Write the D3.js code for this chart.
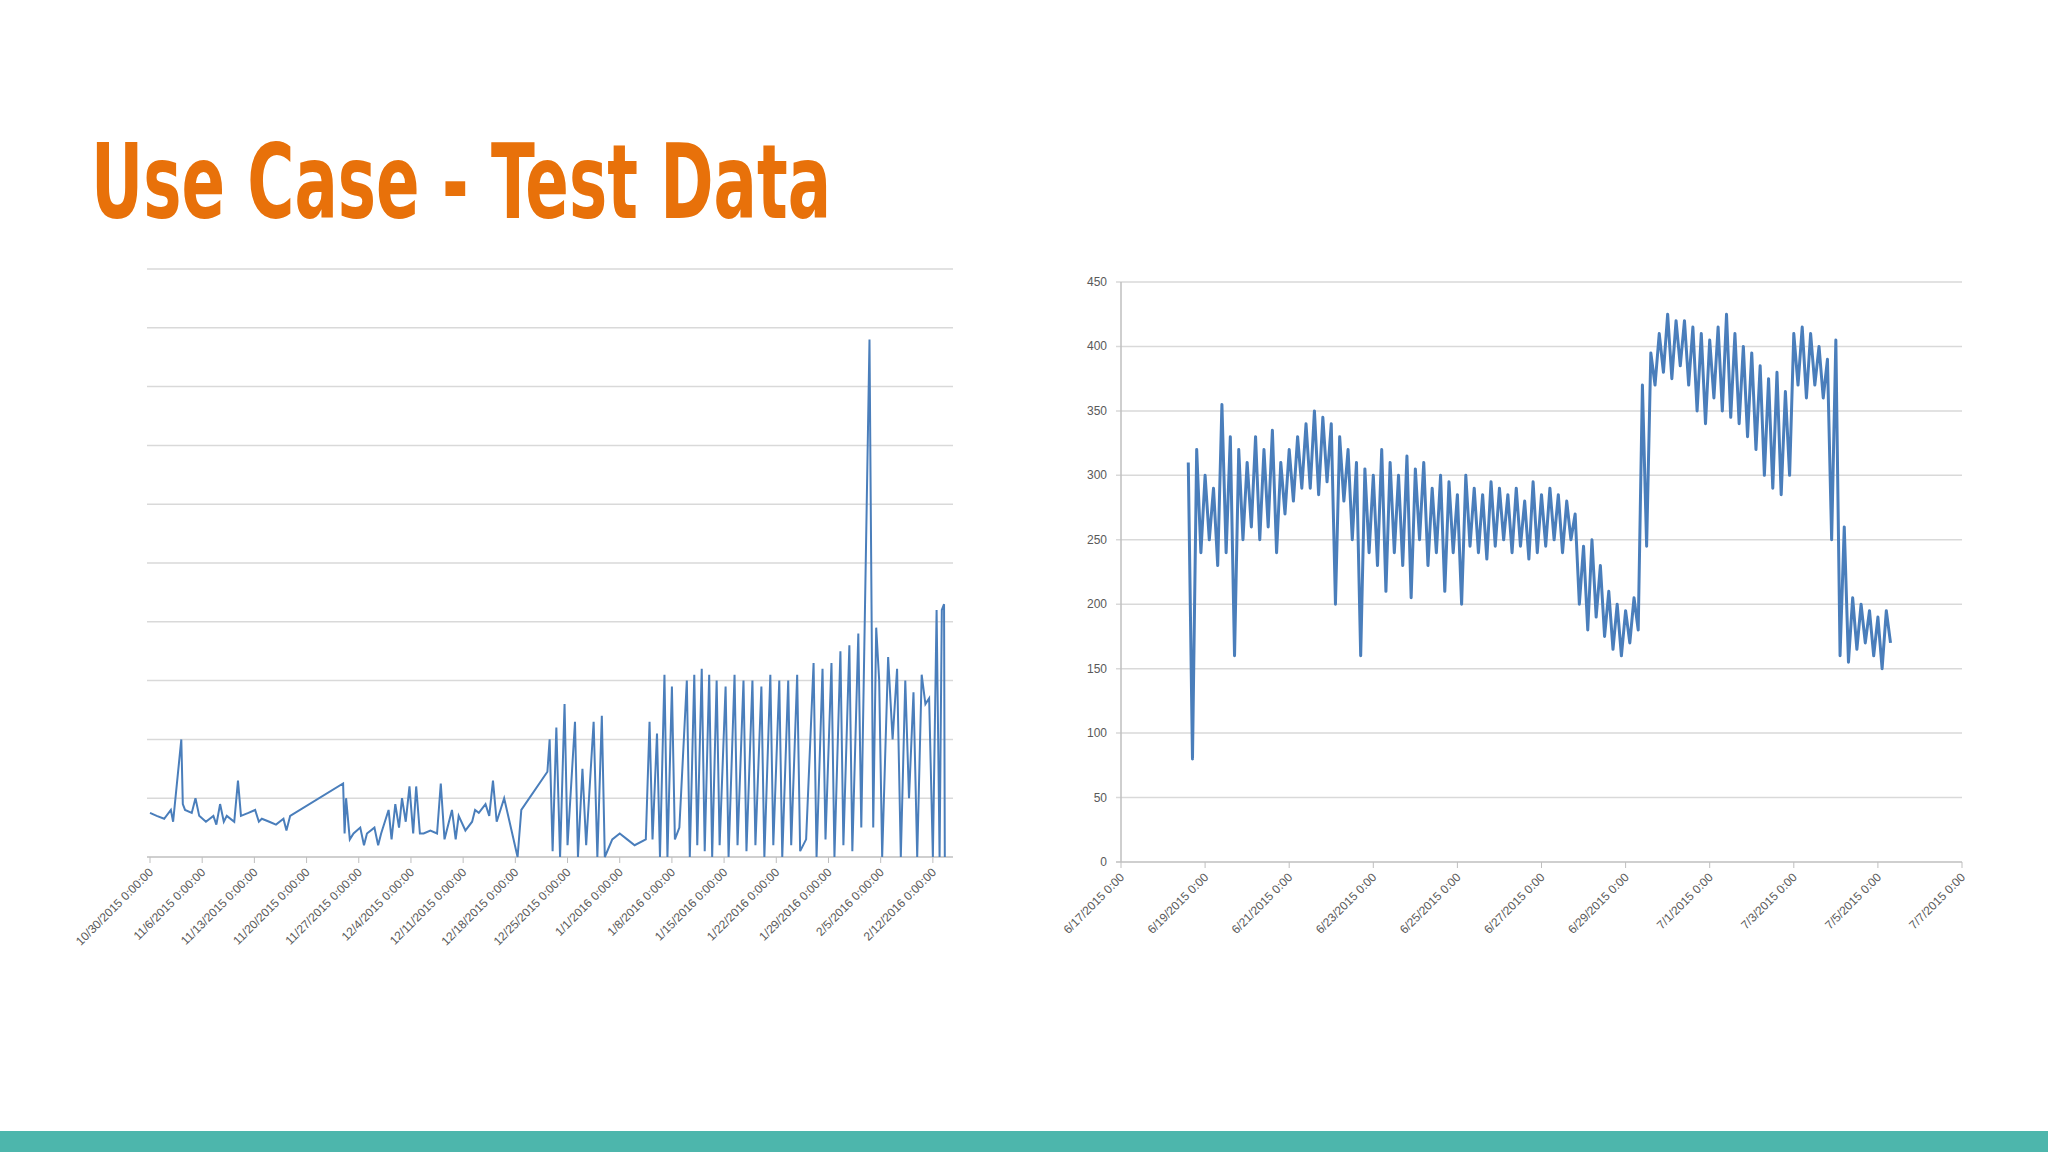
<!DOCTYPE html>
<html><head><meta charset="utf-8">
<script src="https://cdn.jsdelivr.net/npm/d3@7"></script>
<style>body{margin:0;background:#fff}svg{display:block}</style>
</head><body>
<svg id="c" width="2048" height="1152"></svg>
<script>
const titleText = "Use Case - Test Data";
// Left chart: [days since 10/30/2015, value in gridline units]
const leftData = [[0,0.75],[0.9,0.7],[1.9,0.65],[2.8,0.8],[3.1,0.6],[4.2,2.0],[4.4,0.9],[4.7,0.8],[5.6,0.75],[6.1,1.0],[6.6,0.7],[7.5,0.6],[8.5,0.7],[8.9,0.55],[9.4,0.9],[9.9,0.6],[10.3,0.7],[11.3,0.6],[11.8,1.3],[12.2,0.7],[13.2,0.75],[14.1,0.8],[14.6,0.6],[15,0.65],[16,0.6],[16.9,0.55],[17.9,0.65],[18.3,0.45],[18.8,0.7],
[25.9,1.25],[26.1,0.4],[26.3,1.0],[26.8,0.3],[27.3,0.4],[28.2,0.5],[28.7,0.2],[29.1,0.4],[30.1,0.5],[30.6,0.2],[31,0.4],[32,0.8],[32.4,0.3],[32.9,0.9],[33.4,0.5],[33.8,1.0],[34.3,0.6],[34.8,1.2],[35.3,0.4],[35.7,1.2],[36.2,0.4],[36.7,0.4],[37.6,0.45],[38.5,0.4],[39,1.25],[39.5,0.3],[40.5,0.8],[41,0.3],[41.4,0.7],[42.3,0.45],[43.2,0.6],[43.6,0.8],[44.1,0.75],[45,0.9],[45.5,0.7],[46,1.3],[46.5,0.6],[47.5,1.0],[49.3,0],[49.8,0.8],[53.3,1.45],
[53.6,2.0],[54,0.1],[54.5,2.2],[55,0],[55.6,2.6],[56,0.2],[57,2.3],[57.4,0],[58,1.5],[58.5,0.2],[59.5,2.3],[60,0],[60.6,2.4],[61,0],[62,0.3],[63,0.4],[64,0.3],[65,0.2],[66.5,0.3],[67,2.3],[67.4,0.3],[68,2.1],[68.4,0],[69,3.1],[69.4,0],[70,2.9],[70.4,0.3],[71,0.5],[72,3.0],[72.4,0],[73,3.1],[73.4,0.2],[74,3.2],[74.4,0.1],[75,3.1],[75.4,0],[76,3.0],[76.4,0.2],[77.2,2.9],[77.6,0],[78.4,3.1],[78.8,0.2],[79.6,3.0],[80,0.1],[80.8,3.0],[81.2,0.2],[82,2.9],[82.4,0],[83.2,3.1],[83.6,0.2],[84.4,3.0],[84.8,0],[85.6,3.0],[86,0.2],[86.8,3.1],[87.2,0.1],[88,0.3],[89,3.3],[89.4,0],[90.2,3.2],[90.6,0.3],[91.4,3.3],[91.8,0],[92.6,3.5],[93,0.2],[93.8,3.6],[94.2,0.1],[95,3.8],[95.4,0.5],[96.5,8.8],[97,0.5],[97.4,3.9],[97.8,3.0],[98.2,0],[99,3.4],[99.6,2.0],[100.2,3.2],[100.7,0],[101.3,3.0],[101.8,1.0],[102.4,2.8],[102.9,0],[103.5,3.1],[104,2.6],[104.5,2.7],[105,0],[105.5,4.2],[105.9,0],[106.2,4.2],[106.5,4.3],[106.6,0]];
const leftTicks = ["10/30/2015 0:00:00","11/6/2015 0:00:00","11/13/2015 0:00:00","11/20/2015 0:00:00","11/27/2015 0:00:00","12/4/2015 0:00:00","12/11/2015 0:00:00","12/18/2015 0:00:00","12/25/2015 0:00:00","1/1/2016 0:00:00","1/8/2016 0:00:00","1/15/2016 0:00:00","1/22/2016 0:00:00","1/29/2016 0:00:00","2/5/2016 0:00:00","2/12/2016 0:00:00"];
// Right chart: values sampled every 0.1 day starting at day 1.6 after 6/17/2015
const rightStart = 1.6, rightStep = 0.1;
const rightValues = [310,80,320,240,300,250,290,230,
355,240,330,160,320,250,310,260,330,250,
320,260,335,240,310,270,320,280,330,290,
340,290,350,285,345,295,340,200,330,280,
320,250,310,160,305,240,300,230,320,210,
310,240,300,230,315,205,305,250,310,230,
290,240,300,210,295,240,285,200,300,245,
290,240,285,235,295,245,290,250,285,240,
290,245,280,235,295,240,285,245,290,250,
285,240,280,250,270,200,245,180,250,190,
230,175,210,165,200,160,195,170,205,180,
370,245,395,370,410,380,425,375,420,385,
420,370,415,350,410,340,405,360,415,350,
425,345,410,340,400,330,395,320,385,300,
375,290,380,285,365,300,410,370,415,360,
410,370,400,360,390,250,405,160,260,155,
205,165,200,170,195,160,190,150,195,170];
const rightTicks = ["6/17/2015 0:00","6/19/2015 0:00","6/21/2015 0:00","6/23/2015 0:00","6/25/2015 0:00","6/27/2015 0:00","6/29/2015 0:00","7/1/2015 0:00","7/3/2015 0:00","7/5/2015 0:00","7/7/2015 0:00"];
const rightYTicks = [0,50,100,150,200,250,300,350,400,450];

const svg = d3.select("#c");
const lineColor = "#4a7ebb", grid = "#d9d9d9", txt = "#595959";

svg.append("text").attr("x",91).attr("y",218).attr("fill","#e8710a")
 .attr("font-family","'Liberation Sans Narrow','DejaVu Sans Condensed',sans-serif")
 .attr("font-weight","bold").attr("font-size",104)
 .attr("textLength",740).attr("lengthAdjust","spacingAndGlyphs").text(titleText);
svg.append("rect").attr("x",0).attr("y",1131).attr("width",2048).attr("height",21).attr("fill","#4db6ac");

// Left chart
const lx = d3.scaleLinear().domain([0,107.7]).range([150,953]);
const ly = d3.scaleLinear().domain([0,10]).range([857,269]);
const lg = svg.append("g");
lg.selectAll("line.g").data(d3.range(1,11)).join("line")
 .attr("x1",147).attr("x2",953).attr("y1",d=>ly(d)).attr("y2",d=>ly(d)).attr("stroke",grid).attr("stroke-width",1.5);
lg.append("line").attr("x1",147).attr("x2",953).attr("y1",ly(0)).attr("y2",ly(0)).attr("stroke","#bfbfbf").attr("stroke-width",1.5);
leftTicks.forEach((t,i)=>{
  const x = lx(i*7);
  lg.append("line").attr("x1",x).attr("x2",x).attr("y1",ly(0)).attr("y2",ly(0)+6).attr("stroke","#bfbfbf");
  lg.append("text").attr("transform",`translate(${x+4},${ly(0)+16}) rotate(-45)`).attr("text-anchor","end")
   .attr("font-family","Liberation Sans, sans-serif").attr("font-size",12).attr("fill",txt).text(t);
});
lg.append("path").datum(leftData).attr("fill","none").attr("stroke",lineColor).attr("stroke-width",2)
 .attr("d",d3.line().x(d=>lx(d[0])).y(d=>ly(d[1])));

// Right chart
const rx = d3.scaleLinear().domain([0,20]).range([1121,1962]);
const ry = d3.scaleLinear().domain([0,450]).range([862,282]);
const rg = svg.append("g");
rightYTicks.forEach(v=>{
  rg.append("line").attr("x1",1116).attr("x2",1962).attr("y1",ry(v)).attr("y2",ry(v)).attr("stroke",v===0?"#bfbfbf":grid).attr("stroke-width",1.5);
  rg.append("text").attr("x",1107).attr("y",ry(v)+4).attr("text-anchor","end")
   .attr("font-family","Liberation Sans, sans-serif").attr("font-size",12).attr("fill",txt).text(v);
});
rg.append("line").attr("x1",rx(0)).attr("x2",rx(0)).attr("y1",ry(450)).attr("y2",ry(0)).attr("stroke","#bfbfbf").attr("stroke-width",1.5);
rightTicks.forEach((t,i)=>{
  const x = rx(i*2);
  rg.append("line").attr("x1",x).attr("x2",x).attr("y1",ry(0)).attr("y2",ry(0)+6).attr("stroke","#bfbfbf");
  rg.append("text").attr("transform",`translate(${x+4},${ry(0)+16}) rotate(-45)`).attr("text-anchor","end")
   .attr("font-family","Liberation Sans, sans-serif").attr("font-size",12).attr("fill",txt).text(t);
});
rg.append("path").datum(rightValues).attr("fill","none").attr("stroke",lineColor).attr("stroke-width",3).attr("stroke-linejoin","round")
 .attr("d",d3.line().x((d,i)=>rx(rightStart+i*rightStep)).y(d=>ry(d)));
</script></body></html>
